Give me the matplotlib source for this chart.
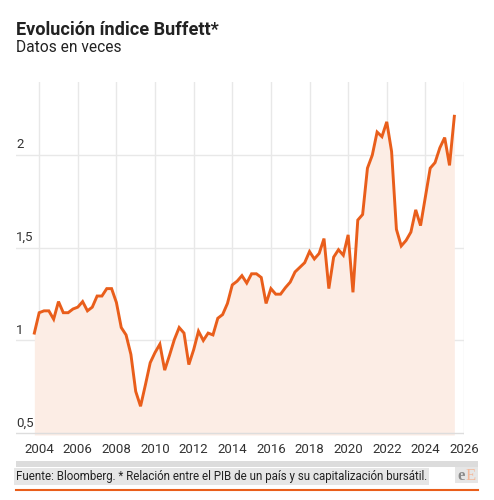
import numpy as np
import matplotlib
matplotlib.use('Agg')
import matplotlib.pyplot as plt
from matplotlib.patches import Rectangle
from matplotlib.lines import Line2D

plt.rcParams['font.family'] = ['Roboto', 'DejaVu Sans']

# quarterly values, Q4 2003 .. Q3 2025
start_year = 2003.75
buffett = [1.04, 1.15, 1.16, 1.16, 1.115, 1.21, 1.15, 1.15, 1.17, 1.18,
           1.21, 1.16, 1.18, 1.24, 1.24, 1.28, 1.28, 1.205, 1.07, 1.03,
           0.925, 0.725, 0.645, 0.76, 0.88, 0.935, 0.98, 0.84, 0.92, 1.005,
           1.07, 1.04, 0.87, 0.95, 1.05, 1.0, 1.04, 1.03, 1.12, 1.14,
           1.20, 1.30, 1.32, 1.35, 1.31, 1.36, 1.36, 1.34, 1.20, 1.28,
           1.25, 1.25, 1.285, 1.315, 1.37, 1.395, 1.42, 1.48, 1.44, 1.47,
           1.55, 1.28, 1.45, 1.49, 1.46, 1.57, 1.26, 1.65, 1.68, 1.93,
           2.0, 2.125, 2.10, 2.18, 2.02, 1.60, 1.51, 1.54, 1.585, 1.705,
           1.62, 1.775, 1.93, 1.96, 2.04, 2.095, 1.945, 2.21]
years = start_year + 0.25 * np.arange(len(buffett))

x_ticks = list(range(2004, 2027, 2))
y_ticks = [0.5, 1, 1.5, 2]
y_labels = ['0,5', '1', '1,5', '2']

title = 'Evolución índice Buffett*'
subtitle = 'Datos en veces'
source = 'Fuente: Bloomberg. * Relación entre el PIB de un país y su capitalización bursátil.'

line_col = '#e95e1b'
fill_col = '#fcede5'
grid_col = '#e8e8e8'
text_col = '#333333'

W, H = 494, 500
fig = plt.figure(figsize=(W / 100, H / 100), dpi=100)
fig.patch.set_facecolor('white')

# axes area in pixels: left 16, right 464, top 82, bottom 435
ax = fig.add_axes([16 / W, 1 - 435 / H, (464 - 16) / W, (435 - 82) / H])
ax.set_xlim(2002.8, 2026)
ax.set_ylim(0.49, 2.395)

ax.fill_between(years, buffett, 0.49, color=fill_col, lw=0, zorder=1)
ax.plot(years, buffett, color=line_col, lw=2.1, solid_joinstyle='miter', zorder=3)

for xt in x_ticks:
    ax.axvline(xt, color=grid_col, lw=1, zorder=0)
for yt in y_ticks:
    ax.axhline(yt, color=grid_col if yt > 0.5 else '#dddddd', lw=1, zorder=2 if yt == 0.5 else 0)

ax.set_xticks(x_ticks)
ax.set_xticklabels([str(x) for x in x_ticks], fontsize=9.5, color=text_col)
ax.tick_params(axis='x', length=0, pad=6)
ax.set_yticks([])
for yt, lab in zip(y_ticks, y_labels):
    ax.text(2002.8, yt + 0.02, lab, fontsize=9.5, color=text_col,
            ha='left', va='bottom', zorder=4)
for s in ax.spines.values():
    s.set_visible(False)

fig.text(16 / W, 1 - 35 / H, title, fontsize=13.1, fontweight='bold',
         color='#222222', ha='left', va='baseline')
fig.text(16 / W, 1 - 52.5 / H, subtitle, fontsize=11.2, color='#222222',
         ha='left', va='baseline')

# footer
fig.add_artist(Rectangle((16 / W, 1 - 467 / H), (478 - 16) / W, 6 / H,
                         transform=fig.transFigure, color='#dcdcdc', lw=0))
fig.text(16 / W, 1 - 480 / H, source, fontsize=8.3, color='#222222',
         ha='left', va='baseline',
         bbox=dict(facecolor='#e6e6e6', edgecolor='none', pad=1.2))
fig.add_artist(Rectangle((455 / W, 1 - 483 / H), 23 / W, 16 / H,
                         transform=fig.transFigure, color='#e6e6e6', lw=0))
fig.text(457 / W, 1 - 480 / H, 'e', fontsize=12, fontweight='bold',
         family=['Liberation Serif', 'DejaVu Serif'], color='#8a8a8a',
         ha='left', va='baseline')
fig.text(466 / W, 1 - 480 / H, 'E', fontsize=12,
         family=['Liberation Serif', 'DejaVu Serif'], color='#f3b89a',
         ha='left', va='baseline')
fig.add_artist(Line2D([16 / W, 478 / W], [1 - 489.5 / H, 1 - 489.5 / H],
                      transform=fig.transFigure, color=line_col, lw=1.5))

fig.savefig('out.png', dpi=100)
